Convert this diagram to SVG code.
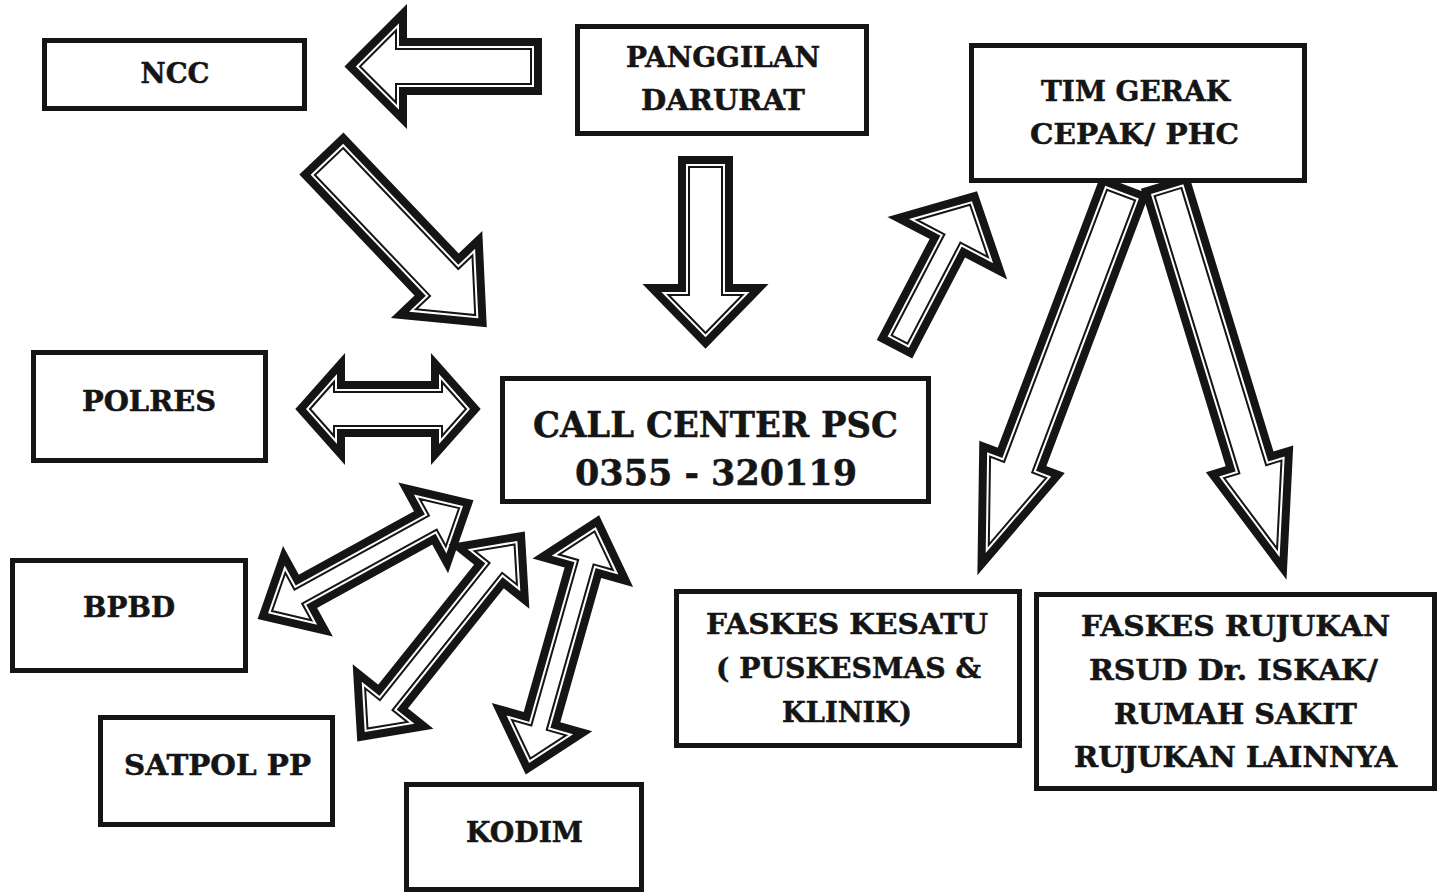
<svg xmlns="http://www.w3.org/2000/svg" xmlns:xlink="http://www.w3.org/1999/xlink" width="1438" height="893" viewBox="0 0 1438 893">
<style>
.bg{fill:#fff}
.box{fill:#fff;stroke:#151515;stroke-width:5}
.t{font-family:"DejaVu Serif","Liberation Serif",serif;font-weight:bold;font-size:27px;fill:#151515;stroke:#151515;stroke-width:0.5;text-anchor:middle}
.big{font-size:36px}
.o{fill:none;stroke:#151515;stroke-width:22;stroke-linejoin:miter;stroke-miterlimit:10}
.m{fill:#fff;stroke:#fff;stroke-width:6;stroke-linejoin:miter;stroke-miterlimit:10}
.i{fill:none;stroke:#151515;stroke-width:2;stroke-linejoin:miter;stroke-miterlimit:10}
</style>
<defs>
<path id="a1" transform="translate(531,66.5) rotate(180)" d="M0,-17.5 L135,-17.5 L135,-36 L171,0 L135,36 L135,17.5 L0,17.5 Z"/>
<path id="a2" transform="translate(329,161.5) rotate(46.4)" d="M0,-19.5 L167,-19.5 L167,-39 L212,0 L167,39 L167,19.5 L0,19.5 Z"/>
<path id="a3" transform="translate(705.5,167) rotate(90)" d="M0,-16.5 L128,-16.5 L128,-37 L166,0 L128,37 L128,16.5 L0,16.5 Z"/>
<path id="a4" transform="translate(310,409)" d="M0,0 L24,-27 L24,-17 L132,-17 L132,-27 L156,0 L132,27 L132,17 L24,17 L24,27 Z"/>
<path id="a5" transform="translate(899.6,339.5) rotate(-62.4)" d="M0,-9 L114,-9 L114,-40 L152,0 L114,40 L114,9 L0,9 Z"/>
<path id="a6" transform="translate(1121,195) rotate(110.7)" d="M0,-15 L291,-15 L291,-30 L374,0 L291,30 L291,15 L0,15 Z"/>
<path id="a7" transform="translate(1168,192) rotate(73)" d="M0,-14 L290,-14 L290,-30 L373,0 L290,30 L290,14 L0,14 Z"/>
<path id="a8" transform="translate(272,611) rotate(-28.8)" d="M0,0 L30,-27 L30,-8 L183.5,-8 L183.5,-27 L213.5,0 L183.5,27 L183.5,8 L30,8 L30,27 Z"/>
<path id="a9" transform="translate(367.5,728.6) rotate(-51.4)" d="M0,0 L30,-27 L30,-8 L205.7,-8 L205.7,-27 L235.7,0 L205.7,27 L205.7,8 L30,8 L30,27 Z"/>
<path id="a10" transform="translate(530.3,758.5) rotate(-74.2)" d="M0,0 L32,-28 L32,-8 L204,-8 L204,-28 L236,0 L204,28 L204,8 L32,8 L32,28 Z"/>
</defs>
<rect class="bg" x="0" y="0" width="1438" height="893"/>
<g id="connectors">
<g id="c-panggilan-ncc"><use xlink:href="#a1" class="o"/><use xlink:href="#a1" class="m"/><use xlink:href="#a1" class="i"/></g>
<g id="c-ncc-callcenter"><use xlink:href="#a2" class="o"/><use xlink:href="#a2" class="m"/><use xlink:href="#a2" class="i"/></g>
<g id="c-panggilan-callcenter"><use xlink:href="#a3" class="o"/><use xlink:href="#a3" class="m"/><use xlink:href="#a3" class="i"/></g>
<g id="c-polres-callcenter"><use xlink:href="#a4" class="o"/><use xlink:href="#a4" class="m"/><use xlink:href="#a4" class="i"/></g>
<g id="c-callcenter-tim"><use xlink:href="#a5" class="o"/><use xlink:href="#a5" class="m"/><use xlink:href="#a5" class="i"/></g>
<g id="c-tim-kesatu"><use xlink:href="#a6" class="o"/><use xlink:href="#a6" class="m"/><use xlink:href="#a6" class="i"/></g>
<g id="c-tim-rujukan"><use xlink:href="#a7" class="o"/><use xlink:href="#a7" class="m"/><use xlink:href="#a7" class="i"/></g>
<g id="c-bpbd-callcenter"><use xlink:href="#a8" class="o"/><use xlink:href="#a8" class="m"/><use xlink:href="#a8" class="i"/></g>
<g id="c-satpol-callcenter"><use xlink:href="#a9" class="o"/><use xlink:href="#a9" class="m"/><use xlink:href="#a9" class="i"/></g>
<g id="c-kodim-callcenter"><use xlink:href="#a10" class="o"/><use xlink:href="#a10" class="m"/><use xlink:href="#a10" class="i"/></g>
</g>
<g id="ncc"><rect class="box" x="44.5" y="40.5" width="260" height="68"/>
<text class="t" x="175" y="82.5" textLength="69" lengthAdjust="spacingAndGlyphs">NCC</text></g>
<g id="panggilan"><rect class="box" x="577.5" y="26.5" width="289" height="107"/>
<text class="t" x="723" y="66.5" textLength="194" lengthAdjust="spacingAndGlyphs">PANGGILAN</text>
<text class="t" x="723" y="109.5" textLength="164" lengthAdjust="spacingAndGlyphs">DARURAT</text></g>
<g id="tim"><rect class="box" x="971.5" y="45.5" width="333" height="135"/>
<text class="t" x="1135.5" y="101" textLength="189" lengthAdjust="spacingAndGlyphs">TIM GERAK</text>
<text class="t" x="1134.5" y="144" textLength="209" lengthAdjust="spacingAndGlyphs">CEPAK/ PHC</text></g>
<g id="polres"><rect class="box" x="33.5" y="352.5" width="232" height="108"/>
<text class="t" x="149" y="411" textLength="134" lengthAdjust="spacingAndGlyphs">POLRES</text></g>
<g id="callcenter"><rect class="box" x="502.5" y="378.5" width="426" height="123"/>
<text class="t big" x="715.5" y="437" textLength="365" lengthAdjust="spacingAndGlyphs">CALL CENTER PSC</text>
<text class="t big" x="716" y="485" textLength="282" lengthAdjust="spacingAndGlyphs">0355 - 320119</text></g>
<g id="bpbd"><rect class="box" x="12.5" y="560.5" width="233" height="110"/>
<text class="t" x="129" y="617" textLength="92" lengthAdjust="spacingAndGlyphs">BPBD</text></g>
<g id="satpol"><rect class="box" x="100.5" y="717.5" width="232" height="107"/>
<text class="t" x="217.5" y="775" textLength="187" lengthAdjust="spacingAndGlyphs">SATPOL PP</text></g>
<g id="kodim"><rect class="box" x="406.5" y="784.5" width="235" height="105"/>
<text class="t" x="524.5" y="842" textLength="117" lengthAdjust="spacingAndGlyphs">KODIM</text></g>
<g id="kesatu"><rect class="box" x="676.5" y="591.5" width="343" height="154"/>
<text class="t" x="847" y="634" textLength="282" lengthAdjust="spacingAndGlyphs">FASKES KESATU</text>
<text class="t" x="848.5" y="678" textLength="265" lengthAdjust="spacingAndGlyphs">( PUSKESMAS &amp;</text>
<text class="t" x="847" y="722" textLength="130" lengthAdjust="spacingAndGlyphs">KLINIK)</text></g>
<g id="rujukan"><rect class="box" x="1036.5" y="594.5" width="398" height="194"/>
<text class="t" x="1235.5" y="636" textLength="309" lengthAdjust="spacingAndGlyphs">FASKES RUJUKAN</text>
<text class="t" x="1233.5" y="680" textLength="289" lengthAdjust="spacingAndGlyphs">RSUD Dr. ISKAK/</text>
<text class="t" x="1235.5" y="724" textLength="243" lengthAdjust="spacingAndGlyphs">RUMAH SAKIT</text>
<text class="t" x="1235.5" y="767" textLength="323" lengthAdjust="spacingAndGlyphs">RUJUKAN LAINNYA</text></g>
</svg>
